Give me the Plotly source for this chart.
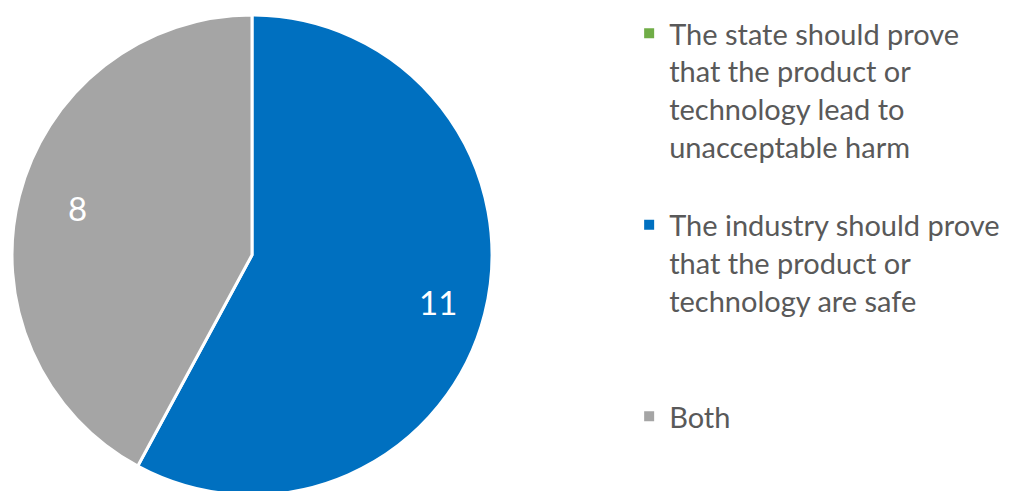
import math
import plotly.graph_objects as go

labels = [
    "The state should prove<br>that the product or<br>technology lead to<br>unacceptable harm<br> ",
    "The industry should prove<br>that the product or<br>technology are safe<br> <br> ",
    "Both",
]
values = [0, 11, 8]
colors = ["#70AD47", "#0070C0", "#A5A5A5"]

W, H = 1010, 491
mt, mb = 0, 0
plot_h = H - mt - mb
dom_x = [4 / W, 484 / W]
dom_y = [4 / plot_h, 484 / plot_h]

fig = go.Figure(go.Pie(
    labels=labels,
    values=values,
    sort=False,
    direction="clockwise",
    rotation=0,
    marker=dict(colors=colors, line=dict(color="white", width=3)),
    textinfo="none",
    domain=dict(x=dom_x, y=dom_y),
    hoverinfo="label+value",
))

# value labels placed at the mid-angle of each slice (computed from the data)
cx = (dom_x[0] + dom_x[1]) / 2 * W
cy = mt + plot_h * (1 - (dom_y[0] + dom_y[1]) / 2)
r = min((dom_x[1] - dom_x[0]) * W, (dom_y[1] - dom_y[0]) * plot_h) / 2
total = sum(values)
cum = 0
for v in values:
    if v > 0:
        mid = (cum + v / 2) / total * 2 * math.pi
        px = cx + 0.8 * r * math.sin(mid)
        py = cy - 0.8 * r * math.cos(mid)
        fig.add_annotation(
            x=px / W, y=(H - mb - py) / plot_h, xref="paper", yref="paper",
            text=str(v), showarrow=False,
            font=dict(family="Lato", size=33, color="white"),
        )
    cum += v

fig.update_layout(
    width=W, height=H,
    margin=dict(l=0, r=0, t=mt, b=mb, autoexpand=False),
    paper_bgcolor="white",
    plot_bgcolor="white",
    showlegend=True,
    legend=dict(
        x=0.615, y=1.0, xanchor="left", yanchor="top",
        valign="top",
        font=dict(family="Lato", size=29, color="#595959"),
        itemsizing="constant",
    ),
)

fig.write_html("out.html")
